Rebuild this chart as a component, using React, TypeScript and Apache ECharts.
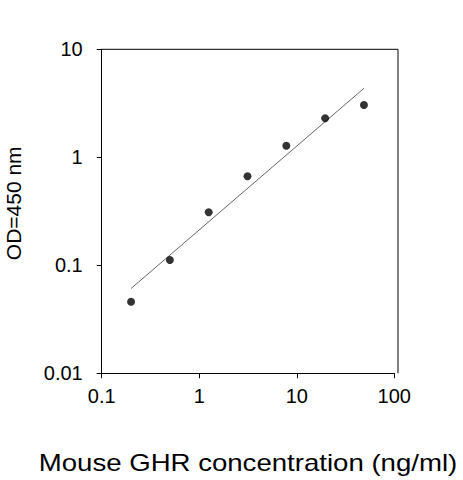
import React, { useEffect, useRef } from "react";
import * as echarts from "echarts";

// Standard concentrations (ng/ml) and measured OD at 450 nm
const concentrations = [0.2, 0.5, 1.25, 3.125, 7.8125, 19.53, 48.83];
const odValues = [0.046, 0.112, 0.31, 0.667, 1.28, 2.3, 3.05];

// Fitted standard-curve line end points
const fitX = [0.2, 48.83];
const fitY = [0.061, 4.35];

const xTickLabels = ["0.1", "1", "10", "100"];
const yTickLabels = ["0.01", "0.1", "1", "10"];

const xTitle = "Mouse GHR concentration (ng/ml)";
const yTitle = "OD=450 nm";

const fmt = (v: number, labels: string[]) => {
  const s = String(Number(v.toPrecision(3)));
  return labels.includes(s) ? s : "";
};

export default function App() {
  const ref = useRef<HTMLDivElement>(null);
  useEffect(() => {
    if (!ref.current) return;
    const chart = echarts.init(ref.current, null, { renderer: "svg" });
    const font = "'Liberation Sans', Arial, sans-serif";
    chart.setOption({
      animation: false,
      backgroundColor: "#ffffff",
      grid: {
        left: 101.7,
        right: 68.7,
        top: 49.3,
        bottom: 106.7,
        containLabel: false,
        outerBoundsMode: "none",
      },
      xAxis: {
        type: "log",
        logBase: 10,
        min: 0.1,
        max: 100,
        axisLine: { show: true, lineStyle: { color: "#000", width: 1 } },
        axisTick: { show: true, inside: false, length: 5, lineStyle: { color: "#000" } },
        minorTick: { show: false },
        splitLine: { show: false },
        axisLabel: {
          color: "#000",
          fontFamily: font,
          fontSize: 20,
          margin: 13,
          formatter: (v: number) => fmt(v, xTickLabels),
        },
      },
      yAxis: {
        type: "log",
        logBase: 10,
        min: 0.01,
        max: 10,
        name: yTitle,
        nameLocation: "middle",
        nameGap: 78,
        nameTextStyle: { color: "#000", fontFamily: font, fontSize: 21, padding: [0, 0, 0, 16] },
        axisLine: { show: true, lineStyle: { color: "#000", width: 1 } },
        axisTick: { show: true, inside: false, length: 5, lineStyle: { color: "#000" } },
        minorTick: { show: false },
        splitLine: { show: false },
        axisLabel: {
          color: "#000",
          fontFamily: font,
          fontSize: 20,
          margin: 19,
          formatter: (v: number) => fmt(v, yTickLabels),
        },
      },
      graphic: [
        {
          type: "polyline",
          shape: { points: [[101.7, 49.3], [398, 49.3], [398, 373.3]] },
          style: { stroke: "#000", lineWidth: 1, fill: "none" },
          silent: true,
        },
        {
          type: "text",
          x: 248,
          y: 463,
          scaleX: 1.2,
          style: {
            text: xTitle,
            fill: "#000",
            font: `23px ${font}`,
            textAlign: "center",
            textVerticalAlign: "middle",
          },
          silent: true,
        },
      ],
      series: [
        {
          type: "line",
          data: fitX.map((x, i) => [x, fitY[i]]),
          showSymbol: false,
          symbol: "none",
          lineStyle: { color: "#666", width: 1 },
          silent: true,
          z: 1,
        },
        {
          type: "scatter",
          data: concentrations.map((x, i) => [x, odValues[i]]),
          symbol: "circle",
          symbolSize: 8,
          itemStyle: { color: "#000" },
          z: 2,
        },
      ],
    });
    return () => chart.dispose();
  }, []);
  return (
    <div
      ref={ref}
      style={{ position: "fixed", left: 0, top: 0, width: 463, height: 480, background: "#fff" }}
    />
  );
}
